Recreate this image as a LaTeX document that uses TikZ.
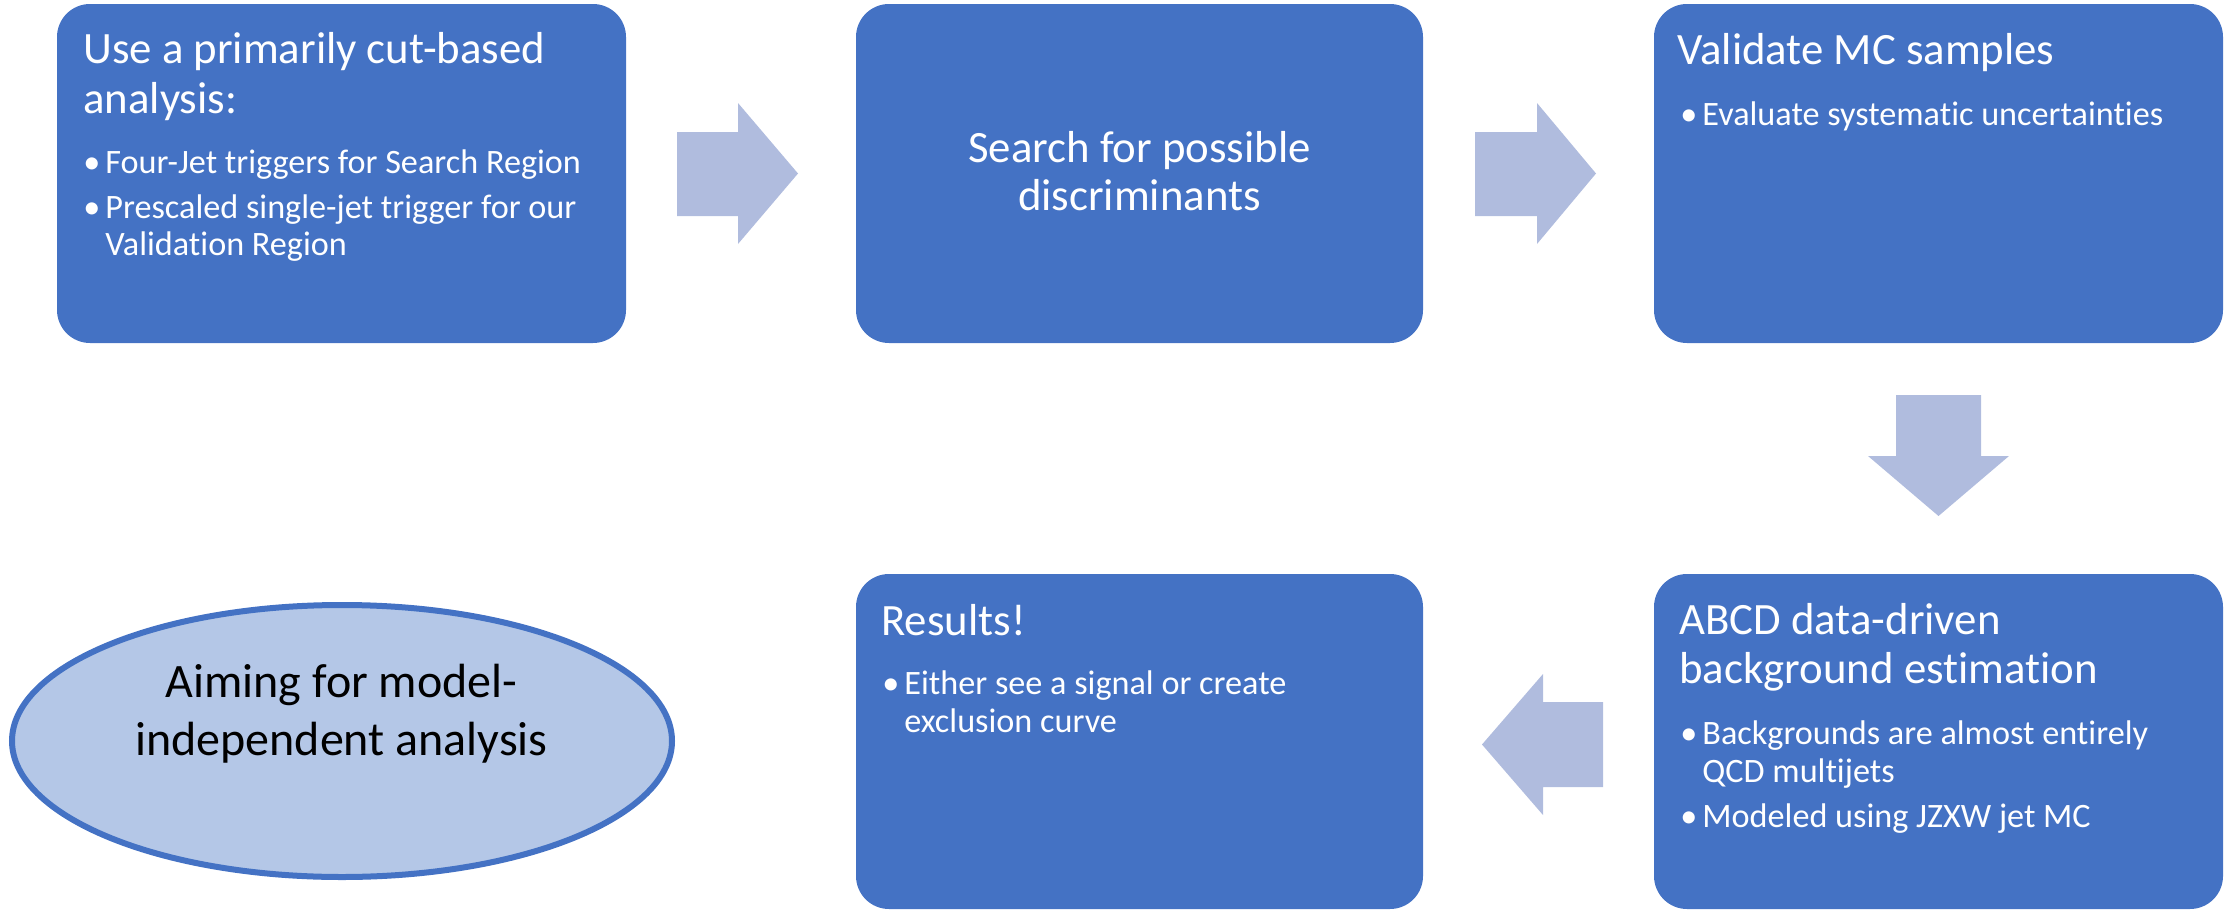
\documentclass[tikz,border=0pt]{standalone}
\usepackage{fontspec}
\setmainfont{Carlito}[Ligatures=NoCommon]
\usetikzlibrary{shapes.geometric}
\definecolor{boxblue}{HTML}{4472C4}
\definecolor{arrowblue}{HTML}{B0BCDE}
\definecolor{ovalfill}{HTML}{B4C7E7}
\begin{document}
\begin{tikzpicture}[x=0.5pt,y=-0.5pt,
  stepbox/.style={rectangle, rounded corners=16.5pt, fill=boxblue, draw=none,
    inner sep=0pt, outer sep=0pt},
  flowarrow/.style={fill=arrowblue, draw=none},
  title/.style={anchor=base west, inner sep=0pt, text=white,
    font=\fontsize{22.4}{25}\selectfont},
  ctitle/.style={anchor=base, inner sep=0pt, text=white,
    font=\fontsize{22.4}{25}\selectfont},
  item/.style={anchor=base west, inner sep=0pt, text=white,
    font=\fontsize{17.1}{19}\selectfont},
  oval/.style={ellipse, fill=ovalfill, draw=boxblue, line width=3pt,
    inner sep=0pt, outer sep=0pt},
  ovaltext/.style={anchor=base, inner sep=0pt, text=black,
    font=\fontsize{24}{29}\selectfont}]
\useasboundingbox (0,0) rectangle (2228,910);

% process boxes
\node[stepbox, minimum width=284.5pt, minimum height=169.5pt] (b1) at (341.5,173.5) {};
\node[stepbox, minimum width=283.5pt, minimum height=169.5pt] (b2) at (1139.5,173.5) {};
\node[stepbox, minimum width=284.5pt, minimum height=169.5pt] (b3) at (1938.5,173.5) {};
\node[stepbox, minimum width=284.5pt, minimum height=167.5pt] (b4) at (1938.5,741.5) {};
\node[stepbox, minimum width=283.5pt, minimum height=167.5pt] (b5) at (1139.5,741.5) {};

% goal oval
\node[oval, minimum width=330pt, minimum height=136pt] (goal) at (342,741) {};

% block arrows between the steps
\fill[flowarrow] (677,132) -- (738,132) -- (738,103) -- (798,173.5)
  -- (738,244) -- (738,216) -- (677,216) -- cycle;
\fill[flowarrow] (1475,132) -- (1537,132) -- (1537,103) -- (1596,173.5)
  -- (1537,244) -- (1537,216) -- (1475,216) -- cycle;
\fill[flowarrow] (1896,395) -- (1981,395) -- (1981,456) -- (2009,456)
  -- (1938.5,516) -- (1868,456) -- (1896,456) -- cycle;
\fill[flowarrow] (1603,702) -- (1543,702) -- (1543,674) -- (1482,744.5)
  -- (1543,815) -- (1543,787) -- (1603,787) -- cycle;

% step 1
\node[title] (t1a) at (83,63) {Use a primarily cut-based};
\node[title] (t1b) at (83,113) {analysis:};
\node[item] (d1a) at (83,173) {•};
\node[item] (i1a) at (105,173) {Four-Jet triggers for Search Region};
\node[item] (d1b) at (83,218) {•};
\node[item] (i1b) at (105,218) {Prescaled single-jet trigger for our};
\node[item] (i1c) at (105,255) {Validation Region};

% step 2
\node[ctitle] (t2a) at (1139.5,162) {Search for possible};
\node[ctitle] (t2b) at (1139.5,210) {discriminants};

% step 3
\node[title] (t3a) at (1677,64) {Validate MC samples};
\node[item] (d3a) at (1680,125) {•};
\node[item] (i3a) at (1702,125) {Evaluate systematic uncertainties};

% step 4
\node[title] (t4a) at (1679,634) {ABCD data-driven};
\node[title] (t4b) at (1679,683) {background estimation};
\node[item] (d4a) at (1680,744) {•};
\node[item] (i4a) at (1702,744) {Backgrounds are almost entirely};
\node[item] (i4b) at (1702,782) {QCD multijets};
\node[item] (d4b) at (1680,827) {•};
\node[item] (i4c) at (1702,827) {Modeled using JZXW jet MC};

% step 5
\node[title] (t5a) at (881,635) {Results!};
\node[item] (d5a) at (882,694) {•};
\node[item] (i5a) at (904,694) {Either see a signal or create};
\node[item] (i5b) at (904,732) {exclusion curve};

% oval text
\node[ovaltext] (g1) at (341.5,697) {Aiming for model-};
\node[ovaltext] (g2) at (341.5,755) {independent analysis};
\end{tikzpicture}
\end{document}
